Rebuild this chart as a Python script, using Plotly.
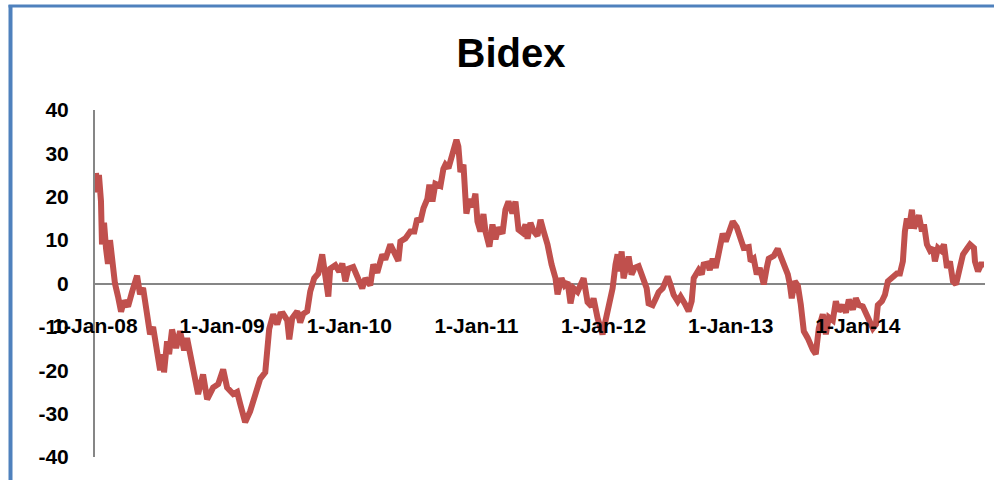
import plotly.graph_objects as go

title_text = "Bidex"
tick_years = [2008, 2009, 2010, 2011, 2012, 2013, 2014]
tick_labels = ["1-Jan-08", "1-Jan-09", "1-Jan-10", "1-Jan-11", "1-Jan-12", "1-Jan-13", "1-Jan-14"]
y_ticks = [40, 30, 20, 10, 0, -10, -20, -30, -40]
y_tick_labels = ["40", "30", "20", "10", "0", "-10", "-20", "-30", "-40"]

years = [
    2008.008, 2008.016, 2008.031, 2008.047, 2008.055, 2008.071, 2008.087, 2008.102, 2008.118, 2008.134,
    2008.157, 2008.181, 2008.205, 2008.228, 2008.260, 2008.291, 2008.331, 2008.354, 2008.378, 2008.409,
    2008.433, 2008.457, 2008.488, 2008.512, 2008.535, 2008.543, 2008.567, 2008.583, 2008.606, 2008.638,
    2008.669, 2008.701, 2008.724, 2008.764, 2008.787, 2008.811, 2008.850, 2008.882, 2008.929, 2008.969,
    2009.008, 2009.039, 2009.087, 2009.118, 2009.142, 2009.181, 2009.220, 2009.244, 2009.276, 2009.299,
    2009.339, 2009.370, 2009.402, 2009.433, 2009.457, 2009.480, 2009.512, 2009.528, 2009.551, 2009.591,
    2009.614, 2009.638, 2009.669, 2009.693, 2009.724, 2009.756, 2009.787, 2009.811, 2009.835, 2009.850,
    2009.890, 2009.921, 2009.945, 2009.969, 2009.992, 2010.031, 2010.063, 2010.102, 2010.126, 2010.165,
    2010.189, 2010.220, 2010.260, 2010.283, 2010.323, 2010.346, 2010.386, 2010.402, 2010.441, 2010.480,
    2010.512, 2010.535, 2010.559, 2010.583, 2010.614, 2010.630, 2010.654, 2010.677, 2010.717, 2010.740,
    2010.756, 2010.780, 2010.811, 2010.843, 2010.858, 2010.874, 2010.898, 2010.921, 2010.945, 2010.969,
    2010.992, 2011.008, 2011.031, 2011.055, 2011.071, 2011.102, 2011.126, 2011.150, 2011.173, 2011.205,
    2011.228, 2011.252, 2011.283, 2011.307, 2011.331, 2011.362, 2011.386, 2011.402, 2011.425, 2011.449,
    2011.480, 2011.504, 2011.528, 2011.559, 2011.591, 2011.622, 2011.638, 2011.669, 2011.693, 2011.717,
    2011.740, 2011.764, 2011.795, 2011.843, 2011.874, 2011.906, 2011.921, 2011.953, 2011.992, 2012.016,
    2012.039, 2012.071, 2012.094, 2012.110, 2012.126, 2012.142, 2012.157, 2012.197, 2012.220, 2012.244,
    2012.276, 2012.307, 2012.339, 2012.354, 2012.386, 2012.409, 2012.433, 2012.465, 2012.504, 2012.528,
    2012.551, 2012.583, 2012.606, 2012.638, 2012.669, 2012.693, 2012.709, 2012.748, 2012.772, 2012.787,
    2012.819, 2012.835, 2012.858, 2012.882, 2012.906, 2012.937, 2012.961, 2012.992, 2013.016, 2013.047,
    2013.079, 2013.102, 2013.142, 2013.157, 2013.181, 2013.205, 2013.228, 2013.260, 2013.283, 2013.299,
    2013.339, 2013.370, 2013.394, 2013.417, 2013.449, 2013.465, 2013.480, 2013.504, 2013.528, 2013.551,
    2013.575, 2013.606, 2013.622, 2013.646, 2013.669, 2013.693, 2013.724, 2013.748, 2013.772, 2013.803,
    2013.827, 2013.850, 2013.882, 2013.906, 2013.929, 2013.961, 2013.984, 2014.008, 2014.039, 2014.063,
    2014.087, 2014.118, 2014.142, 2014.157, 2014.189, 2014.213, 2014.236, 2014.260, 2014.283, 2014.307,
    2014.331, 2014.354, 2014.370, 2014.386, 2014.402, 2014.425, 2014.441, 2014.465, 2014.480, 2014.504,
    2014.520, 2014.543, 2014.567, 2014.591, 2014.606, 2014.630, 2014.654, 2014.677, 2014.701, 2014.724,
    2014.748, 2014.772, 2014.795, 2014.827, 2014.858, 2014.882, 2014.913, 2014.921, 2014.945, 2014.969,
    2014.992,
]

bidex = [
    25.5, 21.0, 25.0, 19.0, 9.0, 14.0, 8.0, 4.5, 10.0, 6.0,
    0.0, -3.0, -6.5, -4.0, -5.3, -2.0, 1.8, -2.5, -1.0, -7.0,
    -11.7, -10.0, -16.3, -20.0, -16.3, -20.5, -13.3, -16.3, -10.6, -14.9,
    -11.0, -15.4, -12.6, -17.9, -21.8, -25.5, -21.0, -26.7, -24.0, -23.2,
    -19.8, -24.0, -25.5, -25.0, -27.8, -32.0, -29.5, -27.3, -24.0, -22.0,
    -20.5, -10.5, -7.1, -9.4, -7.1, -7.0, -8.5, -12.9, -8.0, -6.4,
    -9.0, -7.0, -6.4, -1.8, 1.2, 2.3, 6.7, 1.5, -3.0, 3.4,
    4.2, 2.7, 4.6, 0.5, 3.4, 3.8, 1.2, -1.1, 1.2, -0.4,
    4.4, 2.5, 6.7, 5.5, 9.0, 7.6, 5.2, 9.7, 10.4, 12.0,
    12.0, 15.0, 14.3, 17.3, 19.5, 22.8, 18.9, 23.0, 22.5, 26.4,
    27.4, 26.6, 30.3, 33.1, 31.6, 25.7, 27.4, 16.1, 19.5, 17.6,
    20.7, 14.3, 12.0, 16.0, 12.0, 8.5, 13.6, 10.2, 12.9, 11.5,
    17.0, 18.9, 16.2, 18.9, 12.4, 11.7, 13.6, 10.3, 14.0, 12.1,
    11.0, 14.7, 12.1, 9.0, 4.4, 1.2, -2.5, 1.2, -0.4, 0.3,
    -4.6, -1.1, -1.9, 1.2, -4.3, -5.3, -3.4, -8.0, -11.7, -8.7,
    -5.7, -1.1, 4.4, 6.7, 2.8, 7.4, 1.2, 6.2, 2.1, 3.6,
    4.0, 1.6, -1.1, -4.6, -5.0, -3.6, -2.0, -1.1, 1.6, -0.4,
    -2.6, -4.1, -3.0, -4.6, -6.4, -4.1, 1.2, 3.1, 2.1, 4.4,
    4.6, 3.1, 5.7, 3.6, 7.8, 11.5, 9.7, 12.4, 14.3, 13.0,
    9.7, 8.2, 8.4, 5.1, 5.7, 2.1, 3.6, -0.2, 3.6, 5.7,
    6.4, 8.0, 6.2, 4.4, 2.1, -0.2, -3.4, 0.5, -0.5, -4.8,
    -11.0, -12.6, -14.0, -15.3, -16.3, -10.3, -7.1, -11.7, -7.8, -8.5,
    -4.1, -6.4, -5.0, -6.7, -3.7, -6.0, -3.4, -5.0, -5.3, -6.7,
    -8.7, -10.3, -9.4, -5.0, -4.1, -2.6, 0.5, 1.2, 1.6, 2.3,
    2.3, 5.1, 12.0, 15.0, 12.7, 17.0, 12.7, 14.3, 15.7, 12.0,
    13.6, 9.0, 7.6, 8.2, 5.1, 8.2, 7.6, 9.0, 3.6, 5.1,
    0.5, -0.2, 3.1, 6.7, 8.0, 9.0, 8.2, 5.1, 2.8, 4.4,
    4.4,
]

fig = go.Figure()
fig.add_trace(go.Scatter(
    x=years, y=bidex, mode="lines",
    line=dict(color="#C0504D", width=6),
    showlegend=False, hoverinfo="skip",
))

font_main = "Liberation Sans, Arial, sans-serif"

fig.update_layout(
    width=994, height=480, autosize=False,
    margin=dict(l=95, r=9, t=110, b=23, pad=0),
    paper_bgcolor="white", plot_bgcolor="white",
    title=dict(text="<b>" + title_text + "</b>", x=511 / 994, xref="container", xanchor="center",
               y=1 - 53 / 480, yref="container", yanchor="middle",
               font=dict(family=font_main, size=40, color="black")),
    xaxis=dict(
        range=[2008, 2015], tickmode="array", tickvals=tick_years, ticktext=tick_labels,
        showgrid=False, zeroline=False, showline=False, ticks="",
        anchor="free", position=0.421,
        tickfont=dict(family=font_main, size=21, color="black", weight="bold"),
    ),
    yaxis=dict(
        range=[-40, 40], tickmode="array", tickvals=y_ticks, ticktext=y_tick_labels,
        showgrid=False, zeroline=True, zerolinecolor="#868686", zerolinewidth=2,
        showline=True, linecolor="#868686", linewidth=2, ticks="",
        ticklabelstandoff=20,
        tickfont=dict(family=font_main, size=21, color="black", weight="bold"),
    ),
    shapes=[
        dict(type="line", xref="paper", yref="paper",
             x0=(10.5 - 95) / 890, x1=(10.5 - 95) / 890, y0=(457 - 5) / 347, y1=(457 - 490) / 347,
             line=dict(color="#4F81BD", width=4)),
        dict(type="line", xref="paper", yref="paper",
             x0=(8.5 - 95) / 890, x1=(1000 - 95) / 890, y0=(457 - 6) / 347, y1=(457 - 6) / 347,
             line=dict(color="#4F81BD", width=3)),
    ],
)

fig.write_html("out.html")
